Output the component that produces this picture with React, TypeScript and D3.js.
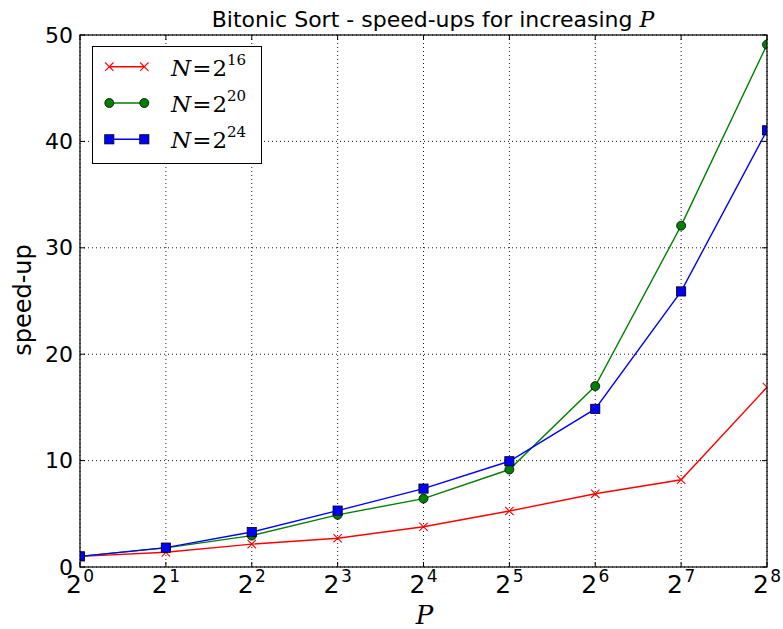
import React from "react";
import * as d3 from "d3";

const exponents = [0, 1, 2, 3, 4, 5, 6, 7, 8];
const procs = exponents.map((e) => Math.pow(2, e));
const speedup16 = [1.0, 1.38, 2.15, 2.7, 3.78, 5.26, 6.88, 8.2, 16.9];
const speedup20 = [1.0, 1.8, 2.95, 4.9, 6.43, 9.16, 17.0, 32.08, 49.1];
const speedup24 = [1.0, 1.82, 3.29, 5.3, 7.37, 9.94, 14.86, 25.9, 41.04];
const yTicks = [0, 10, 20, 30, 40, 50];
const seriesNames = ["16", "20", "24"];

const W = 783;
const H = 629;
const M = { left: 80, right: 767, top: 35, bottom: 567 };

const series = [
  { exp: seriesNames[0], values: speedup16, color: "#ff0000", marker: "x" },
  { exp: seriesNames[1], values: speedup20, color: "#008000", marker: "o" },
  { exp: seriesNames[2], values: speedup24, color: "#0000ff", marker: "s" },
];

const FONT = "'DejaVu Sans', sans-serif";
const MATH = "'DejaVu Serif', 'Liberation Serif', serif";

function Marker({ kind, x, y, color }: { kind: string; x: number; y: number; color: string }) {
  if (kind === "x") {
    const r = 4.2;
    return (
      <path
        d={`M${x - r},${y - r}L${x + r},${y + r}M${x - r},${y + r}L${x + r},${y - r}`}
        stroke={color}
        strokeWidth={1.1}
        fill="none"
      />
    );
  }
  if (kind === "o") {
    return <circle cx={x} cy={y} r={4.5} fill={color} stroke="#000" strokeWidth={0.8} />;
  }
  const s = 4.6;
  return <rect x={x - s} y={y - s} width={2 * s} height={2 * s} fill={color} stroke="#000" strokeWidth={0.8} />;
}

export default function App() {
  const x = d3.scaleLog().base(2).domain([1, 256]).range([M.left, M.right]);
  const y = d3.scaleLinear().domain([0, 50]).range([M.bottom, M.top]);
  const line = d3
    .line<number>()
    .x((_, i) => x(procs[i]))
    .y((d) => y(d));

  const tickLen = 5;

  return (
    <svg width={W} height={H} style={{ position: "absolute", left: 0, top: 0 }}>
      <rect width={W} height={H} fill="#fff" />
      <defs>
        <clipPath id="plot">
          <rect x={M.left} y={M.top} width={M.right - M.left} height={M.bottom - M.top} />
        </clipPath>
      </defs>

      {/* grid */}
      <g stroke="#000" strokeWidth={1} strokeDasharray="1,3" opacity={0.9}>
        {procs.map((p) => (
          <line key={"gx" + p} x1={x(p)} x2={x(p)} y1={M.top} y2={M.bottom} />
        ))}
        {yTicks.map((t) => (
          <line key={"gy" + t} x1={M.left} x2={M.right} y1={y(t)} y2={y(t)} />
        ))}
      </g>

      {/* series */}
      <g clipPath="url(#plot)">
        {series.map((s) => (
          <path key={s.exp} d={line(s.values) || ""} fill="none" stroke={s.color} strokeWidth={1.4} />
        ))}
        {series.map((s) =>
          s.values.map((v, i) => (
            <Marker key={s.exp + "-" + i} kind={s.marker} x={x(procs[i])} y={y(v)} color={s.color} />
          ))
        )}
      </g>

      {/* ticks */}
      <g stroke="#000" strokeWidth={1}>
        {procs.map((p) => (
          <g key={"tx" + p}>
            <line x1={x(p)} x2={x(p)} y1={M.bottom} y2={M.bottom - tickLen} />
            <line x1={x(p)} x2={x(p)} y1={M.top} y2={M.top + tickLen} />
          </g>
        ))}
        {yTicks.map((t) => (
          <g key={"ty" + t}>
            <line x1={M.left} x2={M.left + tickLen} y1={y(t)} y2={y(t)} />
            <line x1={M.right} x2={M.right - tickLen} y1={y(t)} y2={y(t)} />
          </g>
        ))}
      </g>

      {/* frame */}
      <rect
        x={M.left}
        y={M.top}
        width={M.right - M.left}
        height={M.bottom - M.top}
        fill="none"
        stroke="#000"
        strokeWidth={1.2}
      />

      {/* y tick labels */}
      {yTicks.map((t) => (
        <text
          key={"ly" + t}
          x={M.left - 7}
          y={y(t) + 7.5}
          textAnchor="end"
          fontFamily={FONT}
          fontSize={22}
          fill="#000"
        >
          {t}
        </text>
      ))}

      {/* x tick labels */}
      {exponents.map((e, i) => (
        <text key={"lx" + e} x={x(procs[i])} y={593} textAnchor="middle" fontFamily={FONT} fill="#000">
          <tspan fontSize={25}>2</tspan>
          <tspan fontSize={17} dx={1.5} dy={-11.5}>
            {e}
          </tspan>
        </text>
      ))}

      {/* axis labels */}
      <text
        x={(M.left + M.right) / 2 + 1}
        y={624}
        textAnchor="middle"
        fontFamily={MATH}
        fontStyle="italic"
        fontSize={26}
        fill="#000"
      >
        P
      </text>
      <text
        transform={`translate(31,${300}) rotate(-90)`}
        textAnchor="middle"
        fontFamily={FONT}
        fontSize={24}
        fill="#000"
      >
        speed-up
      </text>

      {/* title */}
      <text x={433} y={27} textAnchor="middle" fontFamily={FONT} fontSize={22} fill="#000">
        Bitonic Sort - speed-ups for increasing{" "}
        <tspan fontFamily={MATH} fontStyle="italic">
          P
        </tspan>
      </text>

      {/* legend */}
      <g>
        <rect x={92.5} y={46.5} width={169} height={117} fill="#fff" stroke="#000" strokeWidth={1} />
        {series.map((s, i) => {
          const ly = 66.7 + i * 36.3;
          return (
            <g key={"lg" + s.exp}>
              <line x1={109.3} x2={144.3} y1={ly} y2={ly} stroke={s.color} strokeWidth={1.4} />
              <Marker kind={s.marker} x={109.3} y={ly} color={s.color} />
              <Marker kind={s.marker} x={144.3} y={ly} color={s.color} />
              <text x={171} y={ly + 9} fontFamily={MATH} fontSize={23} fill="#000">
                <tspan fontStyle="italic">N</tspan>
                <tspan dx={1}>=</tspan>
                <tspan dx={1}>2</tspan>
                <tspan fontSize={15} dy={-11}>
                  {s.exp}
                </tspan>
              </text>
            </g>
          );
        })}
      </g>
    </svg>
  );
}
